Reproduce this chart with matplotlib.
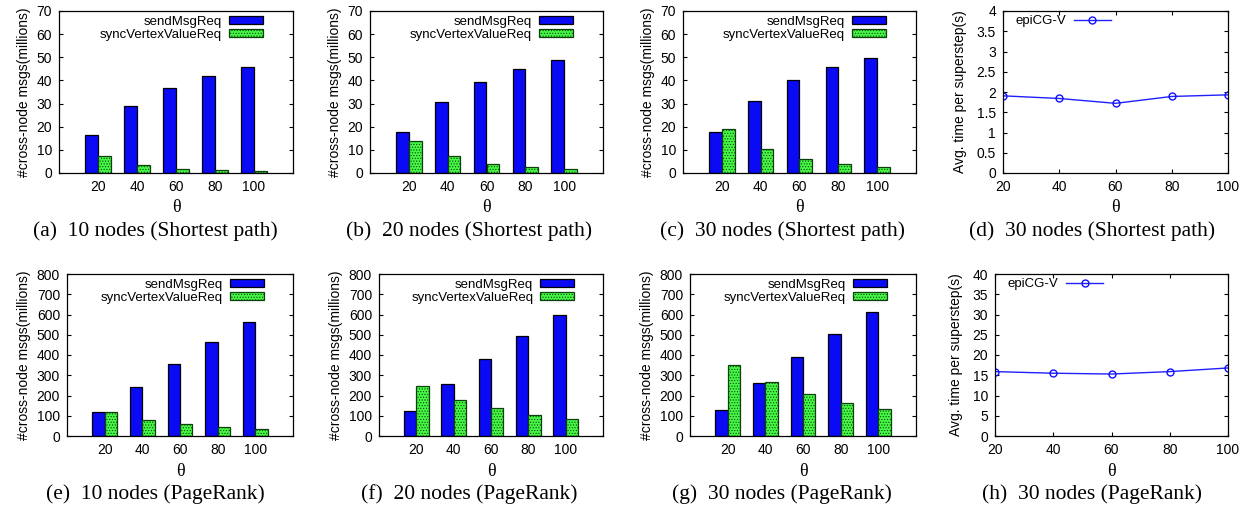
import matplotlib
matplotlib.use("Agg")
import matplotlib.pyplot as plt
from matplotlib.patches import Patch
from matplotlib.lines import Line2D

W, H = 1256, 513

theta = [20, 40, 60, 80, 100]

# shortest path, cross-node msgs (millions)
sp10_send = [16.6, 28.9, 36.9, 42.1, 45.9]
sp10_sync = [7.2, 3.3, 1.9, 1.2, 1.0]
sp20_send = [17.6, 30.7, 39.4, 45.0, 48.8]
sp20_sync = [14.0, 7.2, 4.0, 2.5, 1.9]
sp30_send = [17.9, 31.3, 40.0, 45.7, 49.8]
sp30_sync = [19.2, 10.4, 6.1, 3.9, 2.7]
sp30_time = [1.905, 1.84, 1.72, 1.89, 1.93]

# pagerank, cross-node msgs (millions)
pr10_send = [119, 241, 356, 465, 561]
pr10_sync = [119, 81, 59, 46, 36]
pr20_send = [125, 259, 381, 495, 597]
pr20_sync = [247, 180, 137, 106, 84]
pr30_send = [130, 264, 388, 506, 610]
pr30_sync = [353, 269, 209, 165, 132]
pr30_time = [15.9, 15.5, 15.3, 15.9, 16.8]

captions = ["(a)  10 nodes (Shortest path)", "(b)  20 nodes (Shortest path)",
            "(c)  30 nodes (Shortest path)", "(d)  30 nodes (Shortest path)",
            "(e)  10 nodes (PageRank)", "(f)  20 nodes (PageRank)",
            "(g)  30 nodes (PageRank)", "(h)  30 nodes (PageRank)"]

plt.rcParams['font.family'] = ['Liberation Sans', 'DejaVu Sans']
plt.rcParams['hatch.linewidth'] = 0.5

BLUE = '#0a0af5'
GREEN = '#44f844'
GEDGE = '#0e400e'
FS = 10

fig = plt.figure(figsize=(W / 100, H / 100), dpi=100)


def px_axes(l, r, t, b):
    return fig.add_axes([l / W, 1 - b / H, (r - l) / W, (b - t) / H])


def style(ax):
    ax.tick_params(direction='in', labelsize=FS, length=3, top=True, right=True, pad=5)
    for s in ax.spines.values():
        s.set_linewidth(0.9)
    ax.set_xlabel('θ', family=['Liberation Serif'], fontsize=13, labelpad=4)


def bar_panel(ax, send, sync, ymax, ystep):
    x = list(range(len(theta)))
    w = 0.33
    ax.bar([i - w / 2 for i in x], send, w, color=BLUE, edgecolor='black', lw=0.9)
    ax.bar([i + w / 2 for i in x], sync, w, color=GREEN, edgecolor=GEDGE, lw=0.9, hatch='......')
    ax.set_xlim(-1, len(theta))
    ax.set_xticks(x)
    ax.set_xticklabels([str(t) for t in theta])
    ax.set_ylim(0, ymax)
    ax.set_yticks(range(0, ymax + 1, ystep))
    ax.set_ylabel('#cross-node msgs(millions)', fontsize=FS, labelpad=4)
    style(ax)
    ax.tick_params(axis='x', top=False, bottom=False)
    handles = [Patch(facecolor=BLUE, edgecolor='black', lw=0.9),
               Patch(facecolor=GREEN, edgecolor=GEDGE, lw=0.9, hatch='......')]
    ax.legend(handles, ['sendMsgReq', 'syncVertexValueReq'], loc='upper right',
              bbox_to_anchor=(1 - 30 / 234, 1 - 5 / 162), frameon=False,
              markerfirst=False, fontsize=9.5, handlelength=2.6, handleheight=0.55,
              labelspacing=0.05, borderaxespad=0, borderpad=0, handletextpad=0.5)


def line_panel(ax, vals, ymax, ystep):
    ax.plot(theta, vals, color='#2020ff', lw=1.0, marker='o', ms=5, mfc='none', mec='#1010ff', mew=1.0)
    ax.set_xlim(20, 100)
    ax.set_xticks(theta)
    ax.set_ylim(0, ymax)
    ticks = [i * ystep for i in range(int(round(ymax / ystep)) + 1)]
    ax.set_yticks(ticks)
    ax.set_yticklabels([('%g' % t) for t in ticks])
    ax.set_ylabel('Avg. time per superstep(s)', fontsize=FS, labelpad=7)
    style(ax)
    h = [Line2D([0], [0], color='#2020ff', lw=1.0, marker='o', ms=5, mfc='none', mec='#1010ff')]
    ax.legend(h, ['epiCG-V'], loc='upper left', bbox_to_anchor=(12 / 225, 1 - 4 / 162),
              frameon=False, markerfirst=False, fontsize=9.5,
              handlelength=2.8, borderaxespad=0, borderpad=0, handletextpad=0.6)


top = (11, 173)
bot = (274, 436)
axa = px_axes(59, 293, *top)
axb = px_axes(370, 603, *top)
axc = px_axes(683, 916, *top)
axd = px_axes(1003, 1228, *top)
axe = px_axes(67, 293, *bot)
axf = px_axes(379, 603, *bot)
axg = px_axes(690, 916, *bot)
axh = px_axes(995, 1228, *bot)

bar_panel(axa, sp10_send, sp10_sync, 70, 10)
bar_panel(axb, sp20_send, sp20_sync, 70, 10)
bar_panel(axc, sp30_send, sp30_sync, 70, 10)
line_panel(axd, sp30_time, 4, 0.5)
bar_panel(axe, pr10_send, pr10_sync, 800, 100)
bar_panel(axf, pr20_send, pr20_sync, 800, 100)
bar_panel(axg, pr30_send, pr30_sync, 800, 100)
line_panel(axh, pr30_time, 40, 5)

cap_x = [155, 469, 782, 1092, 155, 469, 782, 1092]
for i, c in enumerate(captions):
    y = 231 if i < 4 else 494
    fig.text(cap_x[i] / W, 1 - y / H, c, ha='center', va='center',
             family=['Liberation Serif'], fontsize=15.5)

fig.savefig('out.png', dpi=100)
